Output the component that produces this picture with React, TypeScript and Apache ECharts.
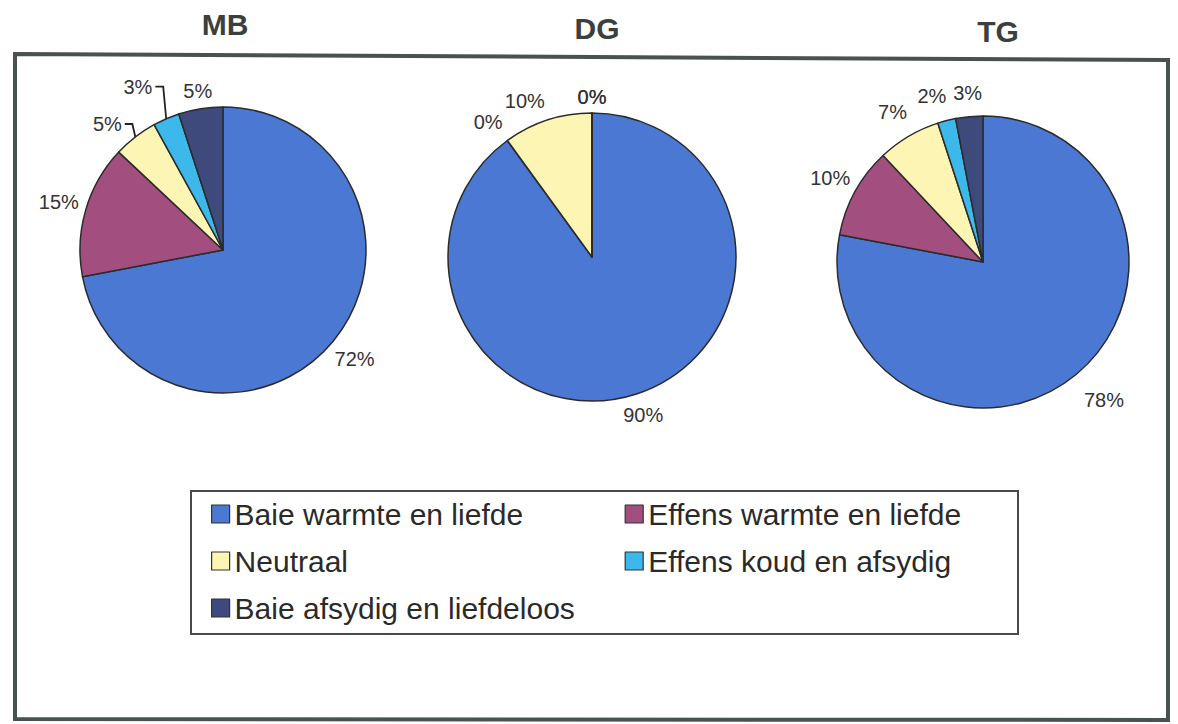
import React, { useEffect, useRef } from "react";
import * as echarts from "echarts";

const categories = [
  "Baie warmte en liefde",
  "Effens warmte en liefde",
  "Neutraal",
  "Effens koud en afsydig",
  "Baie afsydig en liefdeloos",
];
const groups = ["MB", "DG", "TG"];
const mbValues = [72, 15, 5, 3, 5];
const dgValues = [90, 0, 10, 0, 0];
const tgValues = [78, 10, 7, 2, 3];
const allValues = [mbValues, dgValues, tgValues];

const sliceColors = ["#4a78d3", "#a24f80", "#fcf5b4", "#3db8ea", "#3e4a7c"];
const FONT = "'Liberation Sans', Arial, sans-serif";

const pieLayout = [
  { center: [223, 250], r: 143, titleX: 220, titleY: 4 },
  { center: [592, 257], r: 144, titleX: 592, titleY: 8 },
  { center: [983, 262], r: 146, titleX: 993, titleY: 11 },
];
const labelNudge: Record<string, [number, number]> = {
  "0-2": [-14, 5],
  "0-3": [-20, -13],
  "1-1": [-6, 0],
  "1-2": [-16, 2],
  "2-0": [11, 5],
  "2-2": [-5, -5],
  "2-3": [-10, -6],
  "2-4": [0, -6],
};
const leaderLines = new Set(["0-2", "0-3"]);

function makeLabelLayout(si: number) {
  return (params: any) => {
    const di = params.dataIndex;
    const vals = allValues[si];
    const total = vals.reduce((a, b) => a + b, 0);
    let cum = 0;
    for (let i = 0; i < di; i++) cum += vals[i];
    const mid = ((cum + vals[di] / 2) / total) * Math.PI * 2;
    const s = Math.sin(mid);
    const c = Math.cos(mid);
    const { center, r } = pieLayout[si];
    const cx = center[0];
    const cy = center[1];
    const hw = params.labelRect.width / 2;
    const hh = params.labelRect.height / 2;
    const d = r + 6 + hw * Math.abs(s) + hh * Math.abs(c);
    const key = si + "-" + di;
    const nudge = labelNudge[key] || [0, 0];
    const x = cx + d * s + nudge[0];
    const y = cy - d * c + nudge[1];
    const out: any = { x, y, align: "center", verticalAlign: "middle" };
    if (leaderLines.has(key)) {
      const ex = cx + r * s;
      const ey = cy - r * c;
      out.labelLinePoints = [
        [ex, ey],
        [ex - 3, y],
        [x + hw + 3, y],
      ];
    }
    return out;
  };
}

export default function App() {
  const ref = useRef<HTMLDivElement>(null);
  useEffect(() => {
    if (!ref.current) return;
    const chart = echarts.init(ref.current, undefined, { renderer: "svg" });
    const series = allValues.map((vals, si) => ({
      type: "pie",
      name: groups[si],
      center: pieLayout[si].center,
      radius: pieLayout[si].r,
      startAngle: 90,
      clockwise: true,
      avoidLabelOverlap: false,
      silent: true,
      itemStyle: { borderColor: "#2b2b2b", borderWidth: 1.5 },
      label: {
        show: true,
        position: "outside",
        fontSize: 20,
        color: "#333",
        fontFamily: FONT,
        formatter: (p: any) => `${p.value}%`,
      },
      labelLine: { show: false },
      labelLayout: makeLabelLayout(si),
      emphasis: { disabled: true },
      data: categories.map((name, di) => {
        const key = si + "-" + di;
        const item: any = { name, value: vals[di] };
        if (leaderLines.has(key)) {
          item.labelLine = {
            show: true,
            lineStyle: { color: "#222", width: 1.8 },
          };
        }
        return item;
      }),
    }));

    chart.setOption({
      animation: false,
      backgroundColor: "#ffffff",
      color: sliceColors,
      title: groups.map((g, i) => ({
        text: g,
        left: pieLayout[i].titleX,
        top: pieLayout[i].titleY,
        textAlign: "center",
        textStyle: {
          fontSize: 30,
          fontWeight: "bold",
          color: "#3b403d",
          fontFamily: FONT,
        },
      })),
      legend: {
        data: categories,
        left: 206,
        top: 494,
        width: 820,
        orient: "horizontal",
        itemWidth: 18,
        itemHeight: 18,
        itemGap: 17,
        icon: "rect",
        selectedMode: false,
        itemStyle: { borderColor: "#333", borderWidth: 1.2 },
        textStyle: {
          fontSize: 30,
          width: 373,
          lineHeight: 30,
          backgroundColor: "rgba(0,0,0,0)",
          color: "#2a2a2a",
          fontFamily: FONT,
        },
      },
      graphic: [
        {
          type: "polygon",
          z: -1,
          shape: {
            points: [
              [15, 54],
              [1168, 60],
              [1168, 720],
              [15, 719],
            ],
          },
          style: { fill: "none", stroke: "#4a524e", lineWidth: 4 },
        },
        {
          type: "rect",
          z: -1,
          shape: { x: 191, y: 491, width: 827, height: 143 },
          style: { fill: "none", stroke: "#4a4a4a", lineWidth: 2 },
        },
      ],
      series,
    });
    return () => chart.dispose();
  }, []);
  return (
    <div
      ref={ref}
      style={{ position: "absolute", left: 0, top: 0, width: 1178, height: 724 }}
    />
  );
}
